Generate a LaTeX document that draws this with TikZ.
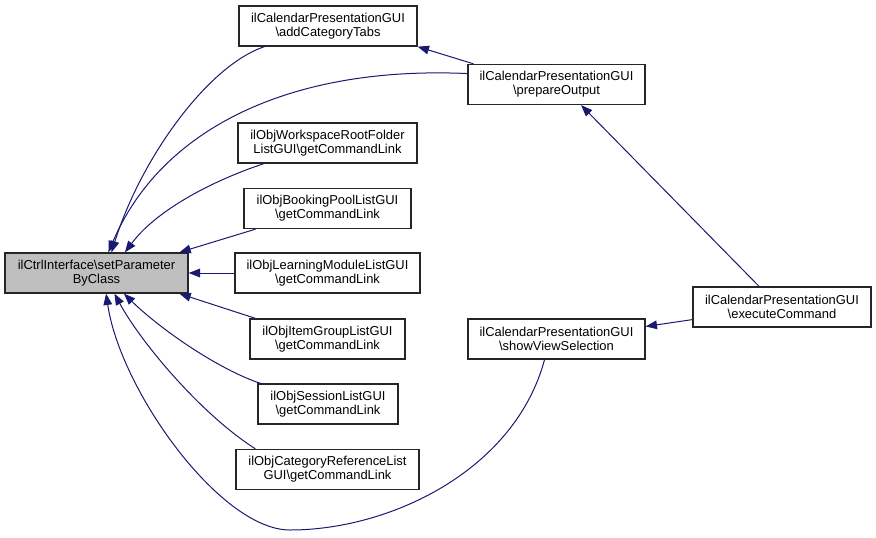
\documentclass[tikz,border=0pt]{standalone}
\usepackage{fontspec}
\setmainfont{Liberation Sans}
\usetikzlibrary{arrows.meta}
\definecolor{edgeblue}{RGB}{25,25,112}
\begin{document}
\begin{tikzpicture}[x=0.75pt, y=-0.75pt,
      fn/.style={draw=black!85, fill=white, line width=1pt, minimum height=30pt, inner sep=0pt, align=center, font=\fontsize{9.7}{10.5}\selectfont},
      call/.style={draw=edgeblue, line width=0.75pt, -{Triangle[length=8.5pt,width=6.5pt]}}
    ]
      \useasboundingbox (0,0) rectangle (876,537);
      \node[fn, fill=gray!50, minimum width=137.25pt] (main) at (96.5,273) {ilCtrlInterface\textbackslash{}setParameter\\ByClass};
      \node[fn, minimum width=133.5pt] (addTabs) at (328,26) {ilCalendarPresentationGUI\\\textbackslash{}addCategoryTabs};
      \node[fn, minimum width=132.75pt] (prepOut) at (556.5,84.5) {ilCalendarPresentationGUI\\\textbackslash{}prepareOutput};
      \node[fn, minimum width=134.25pt] (wsRoot) at (327.5,143) {ilObjWorkspaceRootFolder\\ListGUI\textbackslash{}getCommandLink};
      \node[fn, minimum width=125.25pt] (booking) at (327.5,208.5) {ilObjBookingPoolListGUI\\\textbackslash{}getCommandLink};
      \node[fn, minimum width=138.75pt] (learnMod) at (327.5,273) {ilObjLearningModuleListGUI\\\textbackslash{}getCommandLink};
      \node[fn, minimum width=116.25pt] (itemGrp) at (327.5,339) {ilObjItemGroupListGUI\\\textbackslash{}getCommandLink};
      \node[fn, minimum width=105pt] (session) at (328,404) {ilObjSessionListGUI\\\textbackslash{}getCommandLink};
      \node[fn, minimum width=137.25pt] (catRef) at (327.5,469.5) {ilObjCategoryReferenceList\\GUI\textbackslash{}getCommandLink};
      \node[fn, minimum width=133.5pt] (execCmd) at (782,307) {ilCalendarPresentationGUI\\\textbackslash{}executeCommand};
      \node[fn, minimum width=132.75pt] (showView) at (556.5,339) {ilCalendarPresentationGUI\\\textbackslash{}showViewSelection};
      \coordinate (low) at (290,530);
      % callers of setParameterByClass
      \draw[call] (addTabs.198) .. controls +(-57,19) and +(29,-93) .. (main.54);
      \draw[call] (prepOut.173) .. controls +(-178,-8) and +(52,-123) .. (main.60);
      \draw[call] (prepOut.166) -- (addTabs.south east);
      \draw[call] (wsRoot.198) .. controls +(-37,12) and +(36,-48) .. (main.36);
      \draw[call] (booking.196) -- (main.14);
      \draw[call] (learnMod.west) -- (main.east);
      \draw[call] (itemGrp.164) -- (main.-14);
      \draw[call] (session.163) .. controls +(-42,-14) and +(37,36) .. (main.-37);
      \draw[call] (catRef.164) .. controls +(-55,-35) and +(26,48) .. (main.-49);
      \draw[call] (showView.240) .. controls +(-30,111) and +(100,0) .. (low)
        .. controls +(-70,0) and +(14,96) .. (main.-65);
      % executeCommand
      \draw[call] (execCmd.138) -- (prepOut.-40);
      \draw[call] (execCmd.188) -- (showView.8);
    \end{tikzpicture}
\end{document}
